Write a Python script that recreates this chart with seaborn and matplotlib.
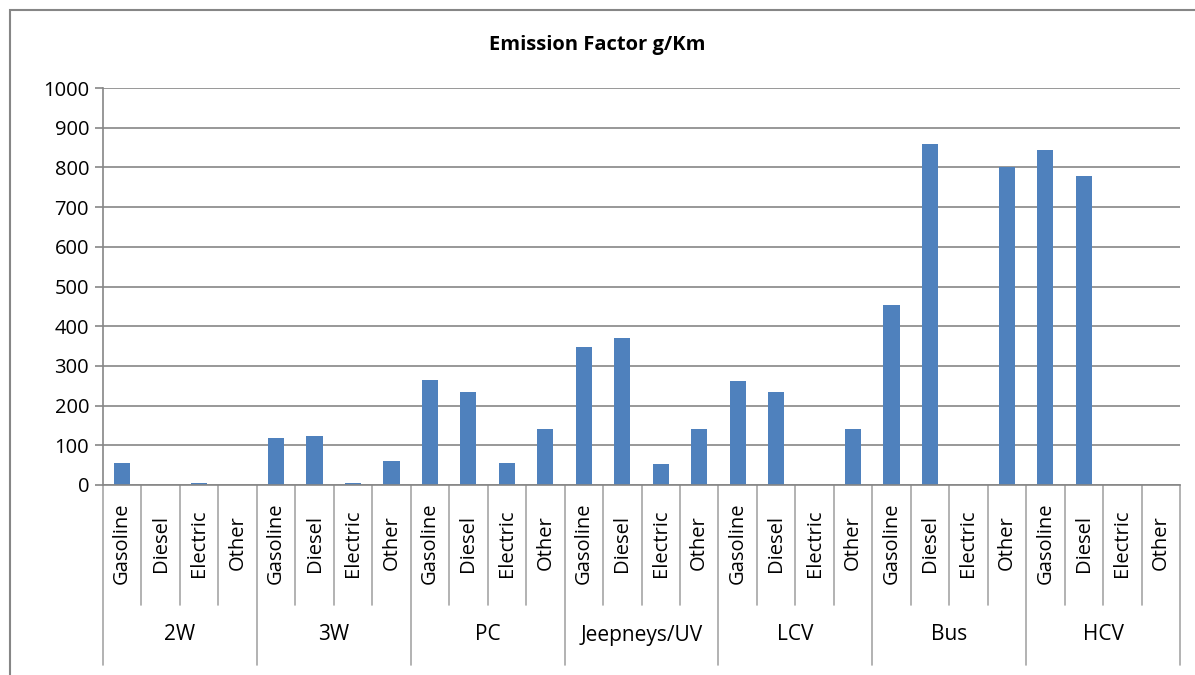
import numpy as np
import pandas as pd
import seaborn as sns
import matplotlib.pyplot as plt
from matplotlib.patches import Rectangle
import matplotlib.transforms as mtrans

sns.set_theme(style="white")
plt.rcParams["font.family"] = ["Open Sans", "DejaVu Sans"]
plt.rcParams["text.color"] = "black"
plt.rcParams["ytick.labelcolor"] = "black"

groups = ["2W", "3W", "PC", "Jeepneys/UV", "LCV", "Bus", "HCV"]
fuels = ["Gasoline", "Diesel", "Electric", "Other"]
values = [
    55, 0, 6, 0,        # 2W
    118, 123, 5, 60,    # 3W
    264, 234, 55, 141,  # PC
    348, 370, 54, 140,  # Jeepneys/UV
    263, 233, 0, 140,   # LCV
    454, 859, 0, 802,   # Bus
    845, 778, 0, 0,     # HCV
]
y_ticks = list(range(0, 1001, 100))

df = pd.DataFrame({
    "group": np.repeat(groups, len(fuels)),
    "fuel": fuels * len(groups),
    "value": values,
})
df["key"] = df["group"] + "|" + df["fuel"]

fig = plt.figure(figsize=(11.95, 6.75), dpi=100)
ax = fig.add_axes([103 / 1195, 1 - 485 / 675, (1180 - 103) / 1195, (485 - 88) / 675])

grey = "#868686"
sns.barplot(data=df, x="key", y="value", color="#4F81BD", width=0.42,
            saturation=1, linewidth=0, ax=ax, zorder=3)
ax.set_xlim(-0.5, len(df) - 0.5)
ax.set_ylim(0, 1000)
ax.set_yticks(y_ticks)
ax.set_yticklabels([str(t) for t in y_ticks], fontsize=14.5, color="black")
ax.yaxis.grid(True, color=grey, linewidth=1.2, zorder=0)
ax.set_xticks([])
ax.set_xlabel("")
ax.set_ylabel("")
for s in ["top", "right"]:
    ax.spines[s].set_visible(False)
for s in ["left", "bottom"]:
    ax.spines[s].set_color(grey)
    ax.spines[s].set_linewidth(1.2)
    ax.spines[s].set_zorder(4)
ax.tick_params(axis="y", left=True, length=6, color=grey, width=1.2, pad=4)

# category axis with two levels
trans = mtrans.blended_transform_factory(ax.transData, ax.transAxes)
leaf_bottom = -(605 - 485) / 397
group_bottom = -(665 - 485) / 397
n = len(df)
for i in range(n + 1):
    x = i - 0.5
    bottom = group_bottom if i % len(fuels) == 0 else leaf_bottom
    ax.plot([x, x], [0, bottom], transform=trans, color="#A6A6A6",
            linewidth=1.2, clip_on=False)
for i, f in enumerate(df["fuel"]):
    ax.text(i, leaf_bottom / 2 + 0.005, f, transform=trans, rotation=90,
            ha="center", va="center", fontsize=14.5, color="black")
for j, g in enumerate(groups):
    xc = j * len(fuels) + (len(fuels) - 1) / 2
    ax.text(xc, (leaf_bottom + group_bottom) / 2, g, transform=trans,
            ha="center", va="center", fontsize=15, color="black")

fig.text(0.5, 1 - 45 / 675, "Emission Factor g/Km", ha="center", va="center",
         fontsize=14.5, fontweight="bold", color="black")

fig.patches.append(Rectangle((10 / 1195, -0.05), 1.2, 1 - 10 / 675 + 0.05,
                             transform=fig.transFigure, fill=False,
                             edgecolor=grey, linewidth=1.5))

fig.savefig("out.png", dpi=100)
